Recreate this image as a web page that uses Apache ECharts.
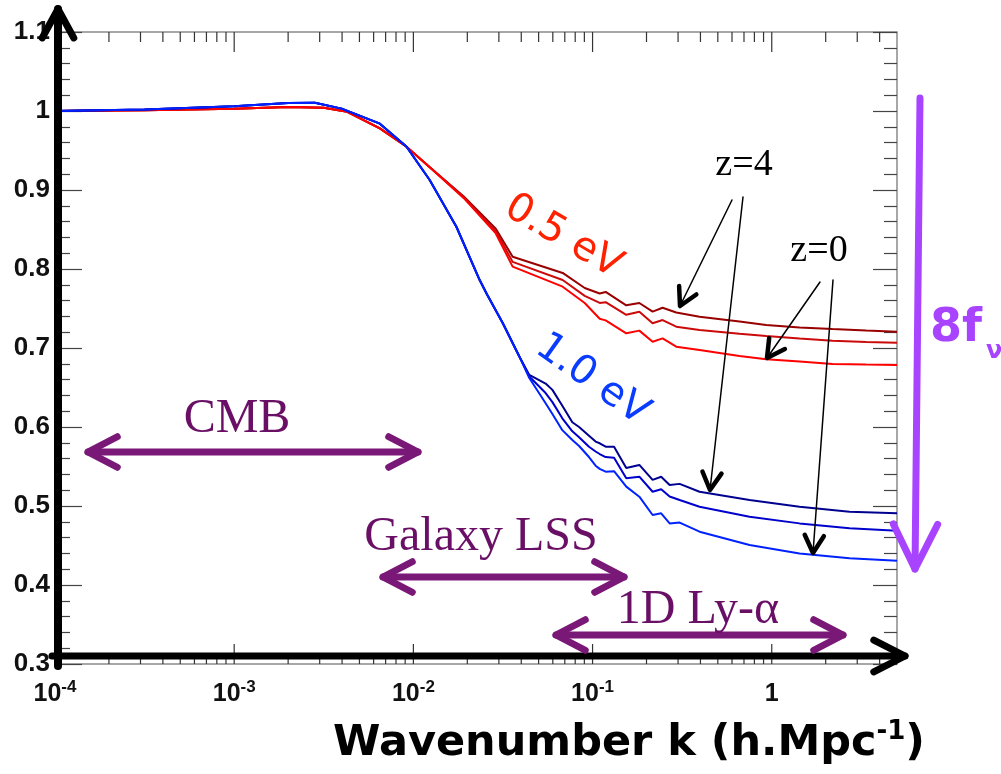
<!DOCTYPE html>
<html><head><meta charset="utf-8">
<script src="https://cdn.jsdelivr.net/npm/echarts@6/dist/echarts.min.js"></script>
<style>html,body{margin:0;padding:0;background:#fff}#c{width:1001px;height:774px}</style>
</head><body><div id="c"></div>
<script>
// ---- data ----
const kRed = [0.0001, 0.000316, 0.001, 0.002, 0.00316, 0.00427, 0.0065, 0.00912, 0.0123, 0.01905, 0.02884, 0.03581, 0.0681, 0.0904, 0.1096, 0.1183, 0.1542, 0.1824, 0.2163, 0.246, 0.2931, 0.3954, 0.6607, 0.931, 1.429, 2.183, 3.365, 5.0];
const red05_z4  = [1.000, 1.001, 1.003, 1.005, 1.004, 0.999, 0.978, 0.955, 0.929, 0.892, 0.851, 0.8156, 0.795, 0.776, 0.769, 0.771, 0.754, 0.757, 0.746, 0.751, 0.745, 0.7396, 0.7334, 0.729, 0.726, 0.724, 0.722, 0.7206];
const red05_mid = [1.000, 1.001, 1.003, 1.005, 1.004, 0.999, 0.978, 0.955, 0.929, 0.891, 0.848, 0.809, 0.786, 0.766, 0.757, 0.758, 0.742, 0.746, 0.7313, 0.7354, 0.727, 0.7228, 0.718, 0.7152, 0.712, 0.7093, 0.7075, 0.7068];
const red05_z0  = [1.000, 1.001, 1.003, 1.005, 1.004, 0.999, 0.978, 0.955, 0.929, 0.890, 0.845, 0.803, 0.7776, 0.757, 0.737, 0.735, 0.7186, 0.722, 0.708, 0.7122, 0.7017, 0.6975, 0.690, 0.6857, 0.683, 0.6797, 0.679, 0.6785];

const kBlue = [0.0001, 0.000316, 0.001, 0.002, 0.00282, 0.00398, 0.0065, 0.00914, 0.01233, 0.01738, 0.02344, 0.0256, 0.03162, 0.03908, 0.04436, 0.0547, 0.0597, 0.0678, 0.0771, 0.0841, 0.0955, 0.1040, 0.1096, 0.1183, 0.1318, 0.1542, 0.1824, 0.2163, 0.2415, 0.2692, 0.3062, 0.3954, 0.7516, 1.429, 2.716, 5.0];
const blue10_z4  = [1.000, 1.002, 1.006, 1.010, 1.0105, 1.003, 0.984, 0.955, 0.9127, 0.8535, 0.786, 0.769, 0.731, 0.689, 0.666, 0.655, 0.647, 0.627, 0.606, 0.600, 0.589, 0.5815, 0.5794, 0.5751, 0.575, 0.548, 0.552, 0.533, 0.537, 0.5266, 0.528, 0.518, 0.5076, 0.499, 0.4928, 0.4907];
const blue10_mid = [1.000, 1.002, 1.006, 1.010, 1.0105, 1.003, 0.984, 0.955, 0.9127, 0.8535, 0.786, 0.769, 0.731, 0.689, 0.664, 0.643, 0.6315, 0.611, 0.5945, 0.587, 0.575, 0.569, 0.5658, 0.562, 0.561, 0.535, 0.5371, 0.518, 0.5212, 0.512, 0.5076, 0.499, 0.4865, 0.478, 0.4718, 0.4688];
const blue10_z0  = [1.000, 1.002, 1.006, 1.010, 1.0105, 1.003, 0.984, 0.955, 0.9127, 0.8535, 0.786, 0.769, 0.731, 0.689, 0.662, 0.630, 0.6165, 0.596, 0.5835, 0.576, 0.562, 0.551, 0.547, 0.5435, 0.544, 0.5245, 0.5118, 0.4886, 0.4907, 0.478, 0.479, 0.4675, 0.4506, 0.44, 0.4338, 0.4308];

const xMajorTicks = [0.0001, 0.001, 0.01, 0.1, 1];
const xTickLabels = ['{b|10}{s|-4}', '{b|10}{s|-3}', '{b|10}{s|-2}', '{b|10}{s|-1}', '{b|1}'];
const xMinorTicks = [0.0002,0.0003,0.0004,0.0005,0.0006,0.0007,0.0008,0.0009,
                     0.002,0.003,0.004,0.005,0.006,0.007,0.008,0.009,
                     0.02,0.03,0.04,0.05,0.06,0.07,0.08,0.09,
                     0.2,0.3,0.4,0.5,0.6,0.7,0.8,0.9,
                     2,3,4];
const yTickLabels = ['0.3','0.4','0.5','0.6','0.7','0.8','0.9','1','1.1'];

// ---- chart ----
const chart = echarts.init(document.getElementById('c'), null, {renderer:'canvas'});
const pair = (ks, vs) => ks.map((k, i) => [k, vs[i]]);
const lineSeries = (name, ks, vs, color) => ({
  name, type:'line', data: pair(ks, vs), showSymbol:false, symbol:'none',
  lineStyle:{color, width:2}, itemStyle:{color}, z:4, silent:true
});

function chevron(tip, from, len, ang){
  const dx = tip[0]-from[0], dy = tip[1]-from[1], d = Math.hypot(dx,dy);
  const ux = dx/d, uy = dy/d;
  const arm = a => [tip[0] - len*(ux*Math.cos(a) - uy*Math.sin(a)), tip[1] - len*(uy*Math.cos(a) + ux*Math.sin(a))];
  return [arm(ang), tip, arm(-ang)];
}
function arrow(p0, p1, color, sw, hw, len, ang, both){
  const els = [{type:'line', shape:{x1:p0[0],y1:p0[1],x2:p1[0],y2:p1[1]}, style:{stroke:color, lineWidth:sw, lineCap:'round'}, z:100},
               {type:'polyline', shape:{points:chevron(p1,p0,len,ang)}, style:{stroke:color, fill:null, lineWidth:hw, lineCap:'round', lineJoin:'round'}, z:100}];
  if (both) els.push({type:'polyline', shape:{points:chevron(p0,p1,len,ang)}, style:{stroke:color, fill:null, lineWidth:hw, lineCap:'round', lineJoin:'round'}, z:100});
  return els;
}
const txt = (text, x, y, size, family, color, extra) => Object.assign({type:'text', x, y, z:101,
  style:{text, fontSize:size, fontFamily:family, fill:color, align:'center', verticalAlign:'middle'}}, extra||{});

const purple = '#7a1878', purpleText = '#6a0f66', violet = '#a843ff';
const graphics = [].concat(
  // axis arrows (black)
  arrow([58,666],[58,9],'#000',8,7,33,0.5),
  arrow([52,656],[905,656],'#000',7,7,35,0.47),
  // z annotations
  arrow([732,200],[680,306],'#000',1.5,4.5,20,0.5),
  arrow([743,197],[710,490],'#000',1.5,4.5,20,0.5),
  arrow([820,282],[767,358],'#000',1.5,4.5,20,0.5),
  arrow([833,280],[813,553],'#000',1.5,4.5,20,0.5),
  // ranges
  arrow([88,452],[418,452],purple,7,7,33,0.48,true),
  arrow([383,577],[624,577],purple,7,7,33,0.48,true),
  arrow([556,635],[843,635],purple,7,7,33,0.48,true),
  // 8 f_nu arrow
  arrow([920,98],[915,569],violet,7,7,50,0.46),
  [
    txt('CMB',237,419,48,'Liberation Serif',purpleText),
    txt('Galaxy LSS',481,537,48,'Liberation Serif',purpleText),
    txt('1D Ly-α',698,610,48,'Liberation Serif',purpleText),
    txt('z=4',744,165,38,'Liberation Serif','#000'),
    txt('z=0',819,251,38,'Liberation Serif','#000'),
    txt('0.5 eV',563,237,40,'DejaVu Sans','#ff2200',{rotation:-0.53}),
    txt('1.0 eV',592,380,40,'DejaVu Sans','#0a3cff',{rotation:-0.62}),
    {type:'text', x:930, y:329, z:101, style:{text:'8f', fontSize:46, fontWeight:'bold', fontFamily:'DejaVu Sans', fill:violet, align:'left', verticalAlign:'middle'}},
    {type:'text', x:986, y:352, z:101, style:{text:'ν', fontSize:24, fontWeight:'bold', fontFamily:'DejaVu Sans', fill:violet, align:'left', verticalAlign:'middle'}},
    {type:'text', x:629, y:744, z:101, style:{text:'{t|Wavenumber k (h.Mpc}{s|-1}{t|)}', align:'center', verticalAlign:'middle',
      rich:{t:{fontSize:43, fontWeight:'bold', fontFamily:'DejaVu Sans', fill:'#000', lineHeight:50},
            s:{fontSize:26, fontWeight:'bold', fontFamily:'DejaVu Sans', fill:'#000', lineHeight:24, verticalAlign:'top'}}}}
  ]
);

const option = {
  animation:false,
  backgroundColor:'#fff',
  grid:{left:55, right:104, top:32, bottom:110, show:true, borderColor:'#8a8a8a', borderWidth:1.5, backgroundColor:'transparent'},
  xAxis:{type:'log', logBase:10, min:0.0001, max:5,
    axisLine:{show:false}, axisTick:{show:false}, splitLine:{show:false}, minorTick:{show:false},
    axisLabel:{margin:15, formatter:function(v){
      const l = Math.log10(v), e = Math.round(l);
      if (Math.abs(l-e) > 1e-6) return '';
      const i = xMajorTicks.findIndex(t => Math.abs(Math.log10(t)-e) < 1e-6);
      return i < 0 ? '' : xTickLabels[i];
    }, rich:{
      b:{fontSize:25, fontWeight:'bold', fontFamily:'Liberation Sans', color:'#111', lineHeight:30},
      s:{fontSize:17, fontWeight:'bold', fontFamily:'Liberation Sans', color:'#111', lineHeight:12, verticalAlign:'top'}
    }}},
  yAxis:[
    {type:'value', min:0.3, max:1.1, interval:0.1, position:'left',
     axisLine:{show:false}, splitLine:{show:false},
     axisTick:{show:true, inside:true, length:27, lineStyle:{color:'#444', width:1.2}},
     minorTick:{show:true, splitNumber:5, length:15, lineStyle:{color:'#444', width:1.2}},
     axisLabel:{margin:5, fontSize:26, fontWeight:'bold', fontFamily:'Liberation Sans', color:'#111',
       formatter:v => yTickLabels[Math.round((v-0.3)/0.1)]}},
    {type:'value', min:0.3, max:1.1, interval:0.1, position:'right',
     axisLine:{show:false}, splitLine:{show:false}, axisLabel:{show:false},
     axisTick:{show:true, inside:true, length:24, lineStyle:{color:'#444', width:1.2}},
     minorTick:{show:true, splitNumber:5, length:13, lineStyle:{color:'#444', width:1.2}}}
  ],
  series:[
    {type:'custom', coordinateSystem:'cartesian2d', silent:true, clip:false, z:3,
     data: xMajorTicks.map(k => [k, 1]).concat(xMinorTicks.map(k => [k, 0])),
     renderItem:function(params, api){
       const k = api.value(0), major = api.value(1) === 1;
       const b = api.coord([k, 0.3]), t = api.coord([k, 1.1]);
       const L = major ? 20 : 10;
       return {type:'group', children:[
         {type:'line', shape:{x1:b[0],y1:b[1],x2:b[0],y2:b[1]-L}, style:{stroke:'#333', lineWidth:1.2}},
         {type:'line', shape:{x1:t[0],y1:t[1],x2:t[0],y2:t[1]+L}, style:{stroke:'#333', lineWidth:1.2}}
       ]};
     }},
    lineSeries('0.5 eV z=4', kRed, red05_z4, '#990000'),
    lineSeries('0.5 eV mid', kRed, red05_mid, '#cc0a0a'),
    lineSeries('0.5 eV z=0', kRed, red05_z0, '#ff0000'),
    lineSeries('1.0 eV z=4', kBlue, blue10_z4, '#000090'),
    lineSeries('1.0 eV mid', kBlue, blue10_mid, '#0000cc'),
    lineSeries('1.0 eV z=0', kBlue, blue10_z0, '#0022ff')
  ],
  graphic: graphics
};
chart.setOption(option);
</script>
</body></html>
